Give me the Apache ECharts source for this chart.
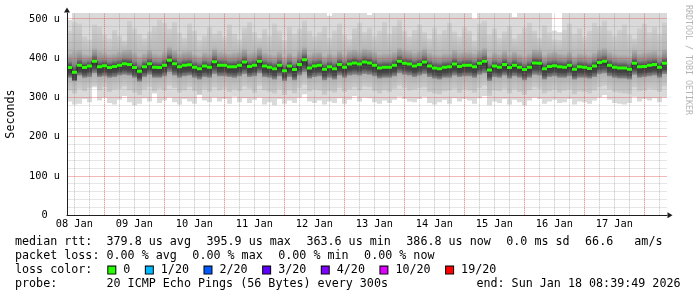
<!DOCTYPE html>
<html><head><meta charset="utf-8">
<script src="https://cdn.jsdelivr.net/npm/echarts@6/dist/echarts.min.js"></script>
<style>html,body{margin:0;padding:0;background:#fff}#c{width:697px;height:297px}</style>
</head><body><div id="c"></div>
<script>
// ---- data (x axis unit: days since 08 Jan 00:00; each bin = 2 h) ----
const dayLabels = ['08 Jan','09 Jan','10 Jan','11 Jan','12 Jan','13 Jan','14 Jan','15 Jan','16 Jan','17 Jan'];
const yTickLabels = ['0  ','100 u','200 u','300 u','400 u','500 u'];

const medianRtt = [
 376,364,382,376,380,392,378,381,376,379,
 382,386,384,376,367,378,386,377,376,382,
 395,386,378,382,383,377,373,380,377,391,
 382,382,378,378,382,390,379,382,392,380,
 377,373,382,368,380,371,384,396,375,380,
 382,372,378,373,384,377,385,388,385,390,
 388,382,375,377,377,382,392,387,385,380,
 384,390,380,375,373,377,378,385,379,382,
 382,378,387,392,370,380,377,384,376,382,
 377,371,377,388,387,373,379,381,378,377,
 382,372,378,377,374,380,389,392,382,377,
 375,375,372,387,378,379,382,384,377,387];

const smokeMax = [
 497,515,515,515,515,515,515,515,515,515,
 515,515,515,515,515,515,515,515,515,515,
 515,515,515,515,515,515,515,515,515,515,
 515,515,515,515,515,515,515,515,515,515,
 515,515,515,515,515,515,515,515,515,515,
 515,515,508,515,515,515,515,515,515,515,
 510,515,515,515,515,515,515,515,515,515,
 515,515,515,515,515,515,515,515,515,515,
 515,500,515,515,515,515,515,515,515,505,
 515,515,515,515,515,515,515,470,466,515,
 515,515,515,515,515,515,515,515,515,515,
 515,515,515,515,515,515,515,515,515,515];

const smokeHighMid = [
 470,492,488,455,448,486,480,460,450,472,
 458,445,495,476,462,450,468,482,498,490,
 475,492,465,452,488,470,446,458,480,462,
 470,455,486,462,448,478,492,466,452,474,
 458,488,470,446,480,462,475,496,470,456,
 466,482,452,470,488,460,448,476,490,466,
 478,456,470,492,462,482,498,470,455,472,
 486,466,450,478,460,472,490,468,455,480,
 470,445,488,495,460,476,452,468,482,450,
 462,478,490,470,452,484,466,448,446,472,
 488,462,476,455,470,490,482,496,470,458,
 472,486,460,450,476,488,466,480,462,490];

const smokeHighCore = [
 412,418,420,410,408,425,418,414,410,412,
 416,420,422,414,406,412,420,412,410,416,
 428,420,412,416,418,410,406,414,412,424,
 416,414,412,414,416,424,414,416,426,414,
 410,408,416,404,414,406,418,428,410,414,
 416,406,412,408,418,410,418,422,418,424,
 422,416,410,412,412,416,426,420,418,414,
 418,424,414,410,408,412,412,420,414,416,
 416,412,420,426,406,414,410,418,410,416,
 410,406,412,422,420,408,414,416,412,410,
 416,406,412,410,408,414,422,426,416,410,
 408,408,406,420,412,414,416,418,410,422];

const smokeLowCore = [
 350,342,356,350,352,362,352,354,350,352,
 356,358,356,350,340,352,358,350,350,354,
 364,356,350,354,356,350,346,352,350,360,
 354,354,352,350,354,360,352,354,362,352,
 350,346,354,342,352,344,356,364,348,352,
 354,344,350,346,356,350,356,358,356,360,
 358,354,348,350,350,354,362,358,356,352,
 356,360,352,348,346,350,350,356,352,354,
 354,350,358,362,342,352,350,356,348,354,
 350,344,350,358,356,346,352,354,350,350,
 354,346,350,350,348,352,360,362,354,350,
 348,348,346,358,350,352,354,356,350,360];

const smokeLowMid = [
 318,310,322,316,324,330,318,326,314,320,
 322,328,318,312,306,320,326,316,322,318,
 330,324,312,318,326,316,308,320,314,326,
 318,322,314,320,316,328,322,312,330,318,
 314,310,320,306,318,310,324,332,316,320,
 318,306,316,312,324,314,320,326,318,328,
 326,316,310,318,314,322,330,324,318,320,
 324,326,314,310,308,316,318,322,312,320,
 318,312,324,330,304,318,316,322,310,320,
 314,306,318,326,322,310,316,320,312,318,
 320,308,316,314,310,318,326,330,320,314,
 312,310,308,326,316,318,322,320,314,328];

const smokeMin = [
 290,282,284,296,288,326,292,300,286,282,
 294,304,288,280,284,298,290,310,286,292,
 300,288,282,296,290,284,306,292,288,300,
 290,296,284,302,288,298,286,294,300,282,
 288,280,296,284,292,286,300,308,290,286,
 292,282,290,286,298,284,294,304,290,300,
 298,288,284,292,286,294,302,296,290,288,
 296,302,286,282,288,294,284,298,290,296,
 292,284,298,304,280,290,286,296,282,294,
 288,280,292,300,296,284,290,294,286,288,
 296,282,290,288,284,292,300,306,294,286,
 284,282,286,302,290,296,292,298,288,300];

const lossLevels = ['0','1/20','2/20','3/20','4/20','10/20','19/20'];
const lossColors = ['#26ff00','#00b8ff','#0059ff','#5e00ff','#7e00ff','#dd00ff','#ff0000'];
const statsRow = ['379.8 us avg','395.9 us max','363.6 us min','386.8 us now','0.0 ms sd','66.6   am/s'];
const lossRow = ['0.00 % avg','0.00 % max','0.00 % min','0.00 % now'];
const probeText = '20 ICMP Echo Pings (56 Bytes) every 300s';
const endText = 'end: Sun Jan 18 08:39:49 2026';

// ---- layout / style ----
const START = 0.378;          // left edge of plot, in days
const BIN = 1 / 12;           // 2 hours
const YMAX = 515;
const MONO = 'DejaVu Sans Mono';
const FS = 11.7, AFS = 10.3;
const V_MAJOR = 'rgba(222,79,79,0.75)', V_MINOR = 'rgba(128,128,128,0.5)';   // vertical, dotted
const H_MAJOR = 'rgba(222,79,79,0.4)', H_MINOR = 'rgba(128,128,128,0.2)';    // horizontal

// grid line positions (axis ticks): major = midnights / every 100 u, minor = every 6 h / every 20 u
const gridLines = [];
for (let q = 1; q < 4 * 11; q++) {
  const d = q / 4;
  if (d > START && d < START + 10) gridLines.push([0, d, q % 4 === 0 ? 1 : 0]);
}
for (let v = 20; v <= 500; v += 20) gridLines.push([1, v, v % 100 === 0 ? 1 : 0]);

const smokeData = medianRtt.map((m, i) => [START + i * BIN, START + (i + 1) * BIN,
  smokeMin[i], smokeLowMid[i], smokeLowCore[i], m, smokeHighCore[i], smokeHighMid[i], smokeMax[i]]);
const medData = medianRtt.map((m, i) => [START + i * BIN, START + (i + 1) * BIN, m]);
const medLine = medianRtt.map((m, i) => [START + (i + 0.5) * BIN, m]);

const chart = echarts.init(document.getElementById('c'), null, {renderer: 'canvas'});

const legendRich = {
  h: {width: 91.5, fontFamily: MONO, fontSize: FS, color: '#000'},
  s: {width: 1.8, fontFamily: MONO, fontSize: FS},
  l: {padding: [0, 13.7, 0, 8], fontFamily: MONO, fontSize: FS, color: '#000'},
  v: {padding: [0, 15.5, 0, 0], fontFamily: MONO, fontSize: FS, color: '#000'}
};
lossColors.forEach((c, i) => {
  legendRich['b' + i] = {width: 7, height: 7, backgroundColor: c, borderColor: '#000', borderWidth: 1};
});

function textEl(x, y, text, extra) {
  return Object.assign({type: 'text', x: x, y: y, silent: true,
    style: Object.assign({text: text, fontFamily: MONO, fontSize: FS, fill: '#000',
      verticalAlign: 'middle', align: 'left', rich: legendRich}, extra || {})});
}
const snap = v => Math.round(v - 0.5) + 0.5;
const clamp01 = v => Math.min(1, Math.max(0, v));

const option = {
  backgroundColor: '#fff',
  animation: false,
  textStyle: {fontFamily: MONO},
  grid: {left: 67, right: 30, top: 13, bottom: 81.7, containLabel: false},
  xAxis: {
    type: 'value', min: START, max: START + 10, z: 6,
    axisLine: {show: true, onZero: false, lineStyle: {color: '#1f1f1f', width: 1},
      symbol: ['none', 'triangle'], symbolSize: [6, 5], symbolOffset: [0, 3]},
    axisTick: {show: false},
    axisLabel: {customValues: dayLabels.map((_, i) => i + 0.5),
      formatter: v => dayLabels[Math.round(v - 0.5)] || '',
      fontFamily: MONO, fontSize: AFS, color: '#000', margin: 4},
    splitLine: {show: false}
  },
  yAxis: {
    type: 'value', min: 0, max: YMAX, interval: 100, z: 6,
    axisLine: {show: true, onZero: false, lineStyle: {color: '#1f1f1f', width: 1},
      symbol: ['none', 'triangle'], symbolSize: [6, 5], symbolOffset: [0, 3]},
    axisTick: {show: false},
    axisLabel: {formatter: v => {
        const i = Math.round(v / 100);
        return (Math.abs(v - i * 100) < 1e-6 && i < yTickLabels.length) ? yTickLabels[i] : '';
      }, fontFamily: MONO, fontSize: AFS, color: '#000', margin: 7},
    splitLine: {show: false}
  },
  series: [
    {
      type: 'custom', z: 1, silent: true, clip: true,
      data: smokeData, encode: {x: [0, 1], y: [2, 8]},
      renderItem: function (params, api) {
        const x0 = api.coord([api.value(0), 0])[0];
        const x1 = api.coord([api.value(1), 0])[0];
        const Y = k => api.coord([api.value(0), api.value(k)])[1];
        const yMin = Y(2), yLM = Y(3), yLC = Y(4), yMed = Y(5), yHC = Y(6), yHM = Y(7), yMax = Y(8);
        const rect = (yt, yb, fill) => ({type: 'rect',
          shape: {x: x0, y: yt, width: x1 - x0, height: yb - yt}, style: {fill: fill}});
        // middle band: lighter towards its outer edges
        const hb = yLM - yHM;
        const gradMid = new echarts.graphic.LinearGradient(0, 0, 0, 1, [
          {offset: 0, color: '#cfcfcf'}, {offset: clamp01((yHC - yHM) / hb), color: '#b6b6b6'},
          {offset: clamp01((yLC - yHM) / hb), color: '#b0b0b0'}, {offset: 1, color: '#cbcbcb'}]);
        // dark core: darkest just around the median
        const f = Math.min(0.95, Math.max(0.05, (yMed - yHC) / (yLC - yHC)));
        const a = Math.max(0, f - 0.25), c = Math.min(1, f + 0.25);
        const grad = new echarts.graphic.LinearGradient(0, 0, 0, 1, [
          {offset: 0, color: '#b0b0b0'}, {offset: a, color: '#868686'},
          {offset: f, color: '#363636'}, {offset: c, color: '#484848'},
          {offset: 1, color: '#8e8e8e'}]);
        return {type: 'group', children: [
          rect(yMax, yMin, '#dadada'), rect(yHM, yLM, gradMid), rect(yHC, yLC, grad)]};
      }
    },
    {
      // grid, drawn over the smoke like rrdtool does
      type: 'custom', z: 2, silent: true, clip: false,
      data: gridLines, encode: {x: -1, y: -1},
      renderItem: function (params, api) {
        const isY = api.value(0) === 1, v = api.value(1), major = api.value(2) === 1;
        if (isY) {
          const y = snap(api.coord([START, v])[1]);
          return {type: 'line', shape: {x1: api.coord([START, 0])[0], y1: y, x2: api.coord([START + 10, 0])[0], y2: y},
            style: {stroke: major ? H_MAJOR : H_MINOR, lineWidth: 1}};
        }
        const x = snap(api.coord([v, 0])[0]);
        return {type: 'line', shape: {x1: x, y1: api.coord([v, 0])[1], x2: x, y2: api.coord([v, YMAX])[1]},
          style: {stroke: major ? V_MAJOR : V_MINOR, lineWidth: 1, lineDash: [1, 1]}};
      }
    },
    {
      type: 'line', z: 4, silent: true, step: 'middle', symbol: 'none',
      data: medLine, lineStyle: {color: '#202020', width: 1}
    },
    {
      type: 'custom', z: 5, silent: true, clip: true,
      data: medData, encode: {x: [0, 1], y: 2},
      renderItem: function (params, api) {
        const p0 = api.coord([api.value(0), api.value(2)]);
        const p1 = api.coord([api.value(1), api.value(2)]);
        return {type: 'rect', shape: {x: p0[0], y: p0[1] - 1.5, width: p1[0] - p0[0], height: 3},
          style: {fill: lossColors[0]}};
      }
    }
  ],
  graphic: [
    textEl(11, 114, 'Seconds', {align: 'center'}),
    textEl(688.5, 60, 'RRDTOOL / TOBI OETIKER', {align: 'center', fontSize: 8.3, fill: '#b4b4b4'}),
    textEl(15, 241.5, '{h|median rtt:}' + statsRow.map(s => '{v|' + s + '}').join('')),
    textEl(15, 255.8, '{h|packet loss:}' + lossRow.map(s => '{v|' + s + '}').join('')),
    textEl(15, 270.1, '{h|loss color:}' + lossLevels.map((l, i) => '{s|}{b' + i + '|}{l|' + l + '}').join('')),
    textEl(15, 284.4, '{h|probe:}{v|' + probeText + '}'),
    textEl(680.5, 284.4, endText, {align: 'right'})
  ]
};
option.graphic[0].rotation = Math.PI / 2;
option.graphic[1].rotation = -Math.PI / 2;
chart.setOption(option);
</script>
</body></html>
